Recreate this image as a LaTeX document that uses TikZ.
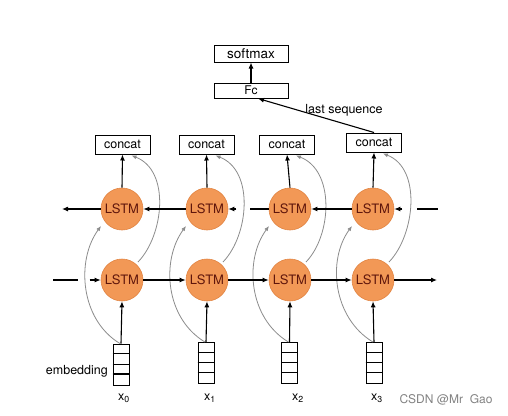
\documentclass[tikz,border=0pt]{standalone}
\usepackage{fontspec}
\setmainfont{TeX Gyre Heros}
\usetikzlibrary{arrows.meta,calc}
\definecolor{lstmfill}{RGB}{242,152,86}
\definecolor{lstmdraw}{RGB}{226,132,66}
\definecolor{lstmtext}{RGB}{95,22,12}
\definecolor{greyline}{RGB}{140,140,140}
\definecolor{wmgrey}{RGB}{130,130,130}
\begin{document}
\begin{tikzpicture}[x=1pt,y=-1pt,
  lstm/.style={circle, fill=lstmfill, draw=lstmdraw, line width=0.6pt, minimum size=42pt, inner sep=0pt, text=lstmtext, font=\fontsize{13}{13}\selectfont},
  box/.style={draw, line width=1pt, minimum width=55pt, minimum height=19pt, inner sep=0pt, font=\fontsize{12.5}{12.5}\selectfont},
  topbox/.style={draw, line width=1pt, minimum width=74pt, inner sep=0pt},
  arr/.style={line width=1.1pt, -{Latex[length=6pt,width=5pt]}},
  plain/.style={line width=1.1pt},
  garr/.style={greyline, line width=0.8pt, -{Latex[length=5pt,width=4pt]}},
  emb/.style={draw, line width=0.9pt, minimum width=16pt, minimum height=41pt, inner sep=0pt},
  lbl/.style={font=\fontsize{12.5}{12.5}\selectfont, inner sep=0pt}
]
\useasboundingbox[fill=white] (0,0) rectangle (508,415);

% top boxes
\node[topbox, minimum height=17pt, font=\fontsize{13.5}{13.5}\selectfont] (soft) at (251,53.5) {softmax};
\node[topbox, minimum height=15pt, font=\fontsize{12}{12}\selectfont] (fc) at (251,90.5) {Fc};
\draw[arr] (fc.north) -- (soft.south);

% columns
\foreach \i/\x/\cx/\cy/\ex/\ey/\th/\lx in {1/122/122.5/144.5/121/364.5/3/124, 2/207/206.5/144.5/206/363/2/210, 3/290/287/144.5/289.5/363/2/298, 4/373/374/142.5/374/363/2/377}{
  \node[lstm] (t\i) at (\x,209) {LSTM};
  \node[lstm] (b\i) at (\x,280) {LSTM};
  \node[box] (c\i) at (\cx,\cy) {concat};
  \node[emb] (e\i) at (\ex,\ey) {};
  \foreach \k in {1,2,3}{
    \draw[line width=0.9pt] ($(e\i.north west)+(0,\k*10.25)$) -- ($(e\i.north east)+(0,\k*10.25)$);
  }
  \draw[line width=1.8pt] ($(e\i.north west)+(0,\th*10.25)$) -- ($(e\i.north east)+(0,\th*10.25)$);
  \node[lbl] (x\i) at (\lx,398) {x\textsubscript{\the\numexpr\i-1\relax}};
  % vertical arrows
  \draw[arr] (e\i.north) -- (b\i.south);
  \draw[arr] (t\i.north) -- (c\i.south);
  % grey curves
  \coordinate (ga\i) at ($(t\i.center)+(-21,17)$);
  \draw[garr] ($(e\i.north)+(-1,0)$) .. controls +(-40,-24) and +(-25,34) .. (ga\i);
  \coordinate (gb\i) at ($(c\i.south)+(9,1)$);
  \draw[garr] ($(b\i.center)+(16,-18)$) .. controls +(26,-27) and +(39,15) .. (gb\i);
}

% top row (right to left)
\coordinate (tl) at (62,209);
\draw[arr] (t1.west) -- (tl);
\draw[arr] (t2.west) -- (t1.east);
\draw[plain] (t3.west) -- ++(-19,0);
\draw[arr] ($(t2.east)+(8,0)$) -- (t2.east);
\draw[arr] (t4.west) -- (t3.east);
\draw[arr] ($(t4.east)+(8,0)$) -- (t4.east);
\coordinate (tr1) at (417,209);
\coordinate (tr2) at (438,209);
\draw[plain] (tr1) -- (tr2);

% bottom row (left to right)
\coordinate (bl1) at (53,280);
\coordinate (bl2) at (78,280);
\draw[plain] (bl1) -- (bl2);
\draw[arr] ($(b1.west)+(-11,0)$) -- (b1.west);
\draw[arr] (b1.east) -- (b2.west);
\draw[arr] (b2.east) -- (b3.west);
\draw[arr] (b3.east) -- (b4.west);
\coordinate (br) at (437,280);
\draw[arr] (b4.east) -- (br);

% last sequence
\draw[arr] (c4.north) -- ($(fc.south)+(7,0)$);
\node[lbl] (ls) at (344,110) {last sequence};

% labels
\node[lbl, anchor=east] (embl) at (108,371) {embedding};
\node[lbl, text=wmgrey, font=\fontsize{12}{12}\selectfont] (wm) at (446,400) {CSDN @Mr\ \ Gao};
\end{tikzpicture}
\end{document}
